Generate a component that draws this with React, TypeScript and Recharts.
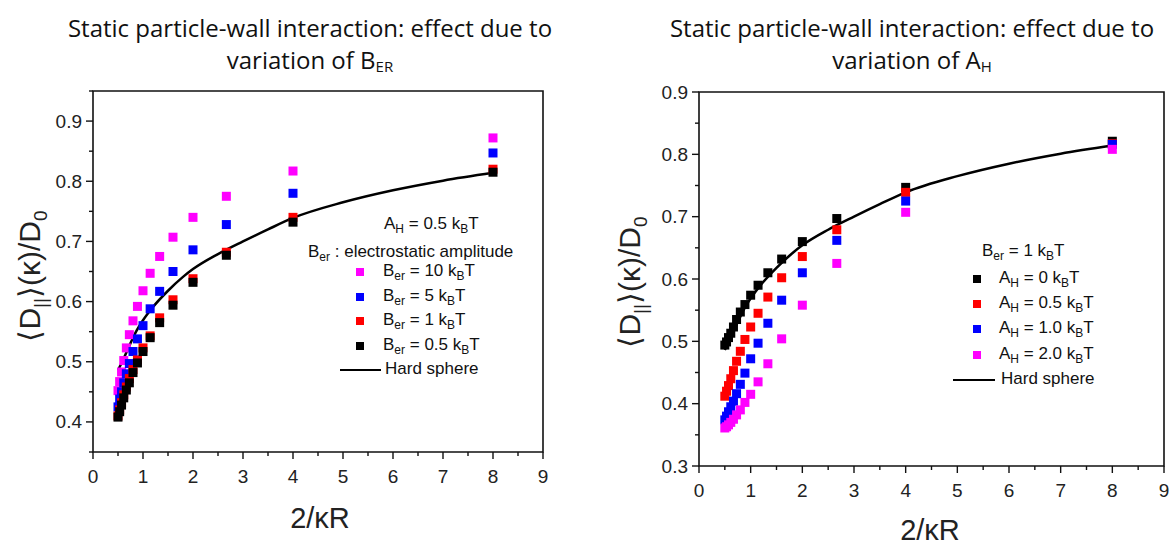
import { ComposedChart, Line, ReferenceArea, Scatter, XAxis, YAxis } from 'recharts';

// x positions shared by all simulated series: 2/kR for kR = 0.25 ... 4
const X_VALUES = [8, 4, 2.667, 2, 1.6, 1.333, 1.143, 1, 0.889, 0.8, 0.727, 0.667, 0.615, 0.571, 0.533, 0.5];

// left panel: variation of B_er (A_H = 0.5 kBT)
const BER_10 = [0.872, 0.817, 0.775, 0.740, 0.707, 0.675, 0.647, 0.618, 0.592, 0.568, 0.545, 0.523, 0.502, 0.483, 0.467, 0.452];
const BER_5 = [0.847, 0.780, 0.728, 0.686, 0.650, 0.617, 0.588, 0.560, 0.538, 0.517, 0.497, 0.480, 0.465, 0.450, 0.438, 0.425];
const BER_1 = [0.820, 0.740, 0.682, 0.638, 0.603, 0.573, 0.543, 0.523, 0.503, 0.487, 0.472, 0.458, 0.445, 0.432, 0.420, 0.410];
const BER_05 = [0.815, 0.732, 0.677, 0.632, 0.594, 0.565, 0.540, 0.517, 0.498, 0.482, 0.465, 0.453, 0.440, 0.428, 0.417, 0.408];

// right panel: variation of A_H (B_er = 1 kBT)
const AH_0 = [0.821, 0.747, 0.697, 0.660, 0.632, 0.610, 0.590, 0.574, 0.559, 0.547, 0.535, 0.523, 0.513, 0.506, 0.499, 0.494];
const AH_05 = [0.817, 0.739, 0.679, 0.636, 0.602, 0.571, 0.545, 0.523, 0.503, 0.484, 0.468, 0.453, 0.440, 0.429, 0.420, 0.412];
const AH_1 = [0.816, 0.725, 0.662, 0.610, 0.566, 0.529, 0.497, 0.472, 0.449, 0.431, 0.416, 0.404, 0.395, 0.387, 0.380, 0.374];
const AH_2 = [0.808, 0.707, 0.625, 0.558, 0.504, 0.464, 0.435, 0.415, 0.402, 0.390, 0.382, 0.375, 0.370, 0.366, 0.363, 0.361];

// hard sphere reference curve
const HS_X = [0.5, 0.6, 0.75, 0.88, 1, 1.2, 1.5, 1.8, 2, 2.5, 3, 3.5, 4, 5, 6, 7, 8];
const HS_Y = [0.486, 0.503, 0.531, 0.553, 0.569, 0.591, 0.618, 0.641, 0.654, 0.679, 0.700, 0.720, 0.739, 0.765, 0.785, 0.801, 0.814];

const X_TICKS = [0, 0.5, 1, 1.5, 2, 2.5, 3, 3.5, 4, 4.5, 5, 5.5, 6, 6.5, 7, 7.5, 8, 8.5, 9];
const LEFT_Y_TICKS = [0.35, 0.4, 0.45, 0.5, 0.55, 0.6, 0.65, 0.7, 0.75, 0.8, 0.85, 0.9, 0.95];
const RIGHT_Y_TICKS = [0.3, 0.35, 0.4, 0.45, 0.5, 0.55, 0.6, 0.65, 0.7, 0.75, 0.8, 0.85, 0.9];
const LEFT_Y_MAJOR = [0.4, 0.5, 0.6, 0.7, 0.8, 0.9];
const RIGHT_Y_MAJOR = [0.3, 0.4, 0.5, 0.6, 0.7, 0.8, 0.9];

const MAGENTA = '#ff00ff';
const BLUE = '#0000ff';
const RED = '#ff0000';
const BLACK = '#000000';

const ARIAL = '"Liberation Sans", Arial, sans-serif';
const TITLE_FONT = '"Open Sans", "Noto Sans", sans-serif';

const toPoints = (ys: number[]) => ys.map((y, i) => ({ x: X_VALUES[i], y }));
const hardSphere = HS_X.map((x, i) => ({ x, y: HS_Y[i] }));

const square = (color: string) => (p: any) => (
  <rect x={p.cx - 4.5} y={p.cy - 4.5} width={9} height={9} fill={color} />
);

function XTick(props: any) {
  const { x, y, payload } = props;
  const v = Number(payload.value);
  const major = Math.abs(v - Math.round(v)) < 1e-6;
  return (
    <g>
      <line x1={x} x2={x} y1={y} y2={y + (major ? 7 : 4)} stroke="#111" strokeWidth={1.4} />
      {major && (
        <text x={x} y={y + 24} textAnchor="middle" dominantBaseline="central" fontSize={19} fill="#222" fontFamily={ARIAL}>
          {v}
        </text>
      )}
    </g>
  );
}

const makeYTick = (majors: number[]) => (props: any) => {
  const { x, y, payload } = props;
  const v = Number(payload.value);
  const major = majors.some((m) => Math.abs(m - v) < 1e-6);
  return (
    <g>
      <line x1={x} x2={x - (major ? 7 : 4)} y1={y} y2={y} stroke="#111" strokeWidth={1.4} />
      {major && (
        <text x={x - 11} y={y} textAnchor="end" dominantBaseline="central" fontSize={19} fill="#222" fontFamily={ARIAL}>
          {v.toFixed(1)}
        </text>
      )}
    </g>
  );
};

function Panel({ domainY, yTicks, yMajors, series, margin, width }: any) {
  return (
    <ComposedChart width={width} height={548} margin={margin}>
      <XAxis
        type="number"
        dataKey="x"
        domain={[0, 9]}
        ticks={X_TICKS}
        interval={0}
        allowDataOverflow
        axisLine={false}
        tickLine={false}
        tickSize={0}
        tickMargin={0}
        height={40}
        tick={(p: any) => <XTick {...p} />}
      />
      <YAxis
        type="number"
        dataKey="y"
        domain={domainY}
        ticks={yTicks}
        interval={0}
        allowDataOverflow
        axisLine={false}
        tickLine={false}
        tickSize={0}
        tickMargin={0}
        width={40}
        tick={makeYTick(yMajors)}
      />
      <ReferenceArea x1={0} x2={9} y1={domainY[0]} y2={domainY[1]} fill="#fff" fillOpacity={0} stroke="#111" strokeWidth={1.6} />
      {series.map((s: any) => (
        <Scatter key={s.name} name={s.name} data={toPoints(s.values)} shape={square(s.color)} isAnimationActive={false} />
      ))}
      <Line
        data={hardSphere}
        dataKey="y"
        type="monotone"
        stroke="#000"
        strokeWidth={2.5}
        dot={false}
        activeDot={false}
        isAnimationActive={false}
      />
    </ComposedChart>
  );
}

const abs = (left: number, top: number): React.CSSProperties => ({ position: 'absolute', left, top });

function LegendSquare({ color, x, y }: { color: string; x: number; y: number }) {
  return <div style={{ position: 'absolute', left: x - 4, top: y - 4, width: 8, height: 8, background: color }} />;
}

const legendText: React.CSSProperties = {
  position: 'absolute',
  fontFamily: ARIAL,
  fontSize: 17,
  color: '#111',
  whiteSpace: 'nowrap',
  lineHeight: '20px',
};
const subStyle: React.CSSProperties = { fontSize: 12, verticalAlign: '-4px' };

function Sub({ children }: { children: React.ReactNode }) {
  return <span style={subStyle}>{children}</span>;
}

function YLabel({ cx, cy }: { cx: number; cy: number }) {
  return (
    <div
      style={{
        position: 'absolute',
        left: cx - 150,
        top: cy - 20,
        width: 300,
        height: 40,
        textAlign: 'center',
        lineHeight: '40px',
        transform: 'rotate(-90deg)',
        fontFamily: ARIAL,
        fontSize: 30,
        color: '#222',
        whiteSpace: 'nowrap',
      }}
    >
      ⟨D<span style={{ fontSize: 19, verticalAlign: '-7px' }}>||</span>⟩(κ)/D<span style={{ fontSize: 19, verticalAlign: '-7px' }}>0</span>
    </div>
  );
}

function XLabel({ cx, cy }: { cx: number; cy: number }) {
  return (
    <div style={{ position: 'absolute', left: cx - 60, top: cy - 18, width: 120, textAlign: 'center', lineHeight: '36px', fontFamily: ARIAL, fontSize: 29, color: '#222' }}>
      2/κR
    </div>
  );
}

function Title({ cx, sub, letter }: { cx: number; sub: string; letter: string }) {
  return (
    <div style={{ position: 'absolute', left: cx - 290, top: 12, width: 580, textAlign: 'center', fontFamily: TITLE_FONT, fontWeight: 400, fontSize: 24, lineHeight: '32px', color: '#111' }}>
      Static particle-wall interaction: effect due to
      <br />
      variation of {letter}
      <span style={{ fontSize: 15, verticalAlign: '-3px' }}>{sub}</span>
    </div>
  );
}

export default function App() {
  const leftSeries = [
    { name: 'Ber10', values: BER_10, color: MAGENTA },
    { name: 'Ber5', values: BER_5, color: BLUE },
    { name: 'Ber1', values: BER_1, color: RED },
    { name: 'Ber05', values: BER_05, color: BLACK },
  ];
  const rightSeries = [
    { name: 'AH0', values: AH_0, color: BLACK },
    { name: 'AH05', values: AH_05, color: RED },
    { name: 'AH1', values: AH_1, color: BLUE },
    { name: 'AH2', values: AH_2, color: MAGENTA },
  ];
  return (
    <div style={{ position: 'relative', width: 1170, height: 548, background: '#fff', overflow: 'hidden' }}>
      <style>{'body{margin:0}'}</style>
      <div style={abs(0, 0)}>
        <Panel
          width={560}
          domainY={[0.35, 0.95]}
          yTicks={LEFT_Y_TICKS}
          yMajors={LEFT_Y_MAJOR}
          series={leftSeries}
          margin={{ top: 91, right: 17, bottom: 56, left: 53 }}
        />
      </div>
      <div style={abs(600, 0)}>
        <Panel
          width={570}
          domainY={[0.3, 0.9]}
          yTicks={RIGHT_Y_TICKS}
          yMajors={RIGHT_Y_MAJOR}
          series={rightSeries}
          margin={{ top: 92, right: 6, bottom: 42, left: 59 }}
        />
      </div>

      <Title cx={310} letter="B" sub="ER" />
      <Title cx={912} letter="A" sub="H" />

      <YLabel cx={30} cy={276} />
      <YLabel cx={630} cy={282} />
      <XLabel cx={320} cy={518} />
      <XLabel cx={930} cy={530} />

      {/* left legend */}
      <div style={{ ...legendText, left: 384, top: 214 }}>
        A<Sub>H</Sub> = 0.5 k<Sub>B</Sub>T
      </div>
      <div style={{ ...legendText, left: 308, top: 242 }}>
        B<Sub>er</Sub> : electrostatic amplitude
      </div>
      <LegendSquare color={MAGENTA} x={360} y={272} />
      <div style={{ ...legendText, left: 383, top: 261 }}>B<Sub>er</Sub> = 10 k<Sub>B</Sub>T</div>
      <LegendSquare color={BLUE} x={360} y={297} />
      <div style={{ ...legendText, left: 383, top: 286 }}>B<Sub>er</Sub> = 5 k<Sub>B</Sub>T</div>
      <LegendSquare color={RED} x={360} y={321} />
      <div style={{ ...legendText, left: 383, top: 310 }}>B<Sub>er</Sub> = 1 k<Sub>B</Sub>T</div>
      <LegendSquare color={BLACK} x={360} y={346} />
      <div style={{ ...legendText, left: 383, top: 335 }}>B<Sub>er</Sub> = 0.5 k<Sub>B</Sub>T</div>
      <div style={{ position: 'absolute', left: 340, top: 369, width: 41, height: 2, background: '#000' }} />
      <div style={{ ...legendText, left: 385, top: 359 }}>Hard sphere</div>

      {/* right legend */}
      <div style={{ ...legendText, left: 982, top: 241 }}>
        B<Sub>er</Sub> = 1 k<Sub>B</Sub>T
      </div>
      <LegendSquare color={BLACK} x={977} y={279} />
      <div style={{ ...legendText, left: 999, top: 268 }}>A<Sub>H</Sub> = 0 k<Sub>B</Sub>T</div>
      <LegendSquare color={RED} x={977} y={304} />
      <div style={{ ...legendText, left: 999, top: 293 }}>A<Sub>H</Sub> = 0.5 k<Sub>B</Sub>T</div>
      <LegendSquare color={BLUE} x={977} y={329} />
      <div style={{ ...legendText, left: 999, top: 318 }}>A<Sub>H</Sub> = 1.0 k<Sub>B</Sub>T</div>
      <LegendSquare color={MAGENTA} x={977} y={355} />
      <div style={{ ...legendText, left: 999, top: 344 }}>A<Sub>H</Sub> = 2.0 k<Sub>B</Sub>T</div>
      <div style={{ position: 'absolute', left: 953, top: 379, width: 42, height: 2, background: '#000' }} />
      <div style={{ ...legendText, left: 1001, top: 369 }}>Hard sphere</div>
    </div>
  );
}
